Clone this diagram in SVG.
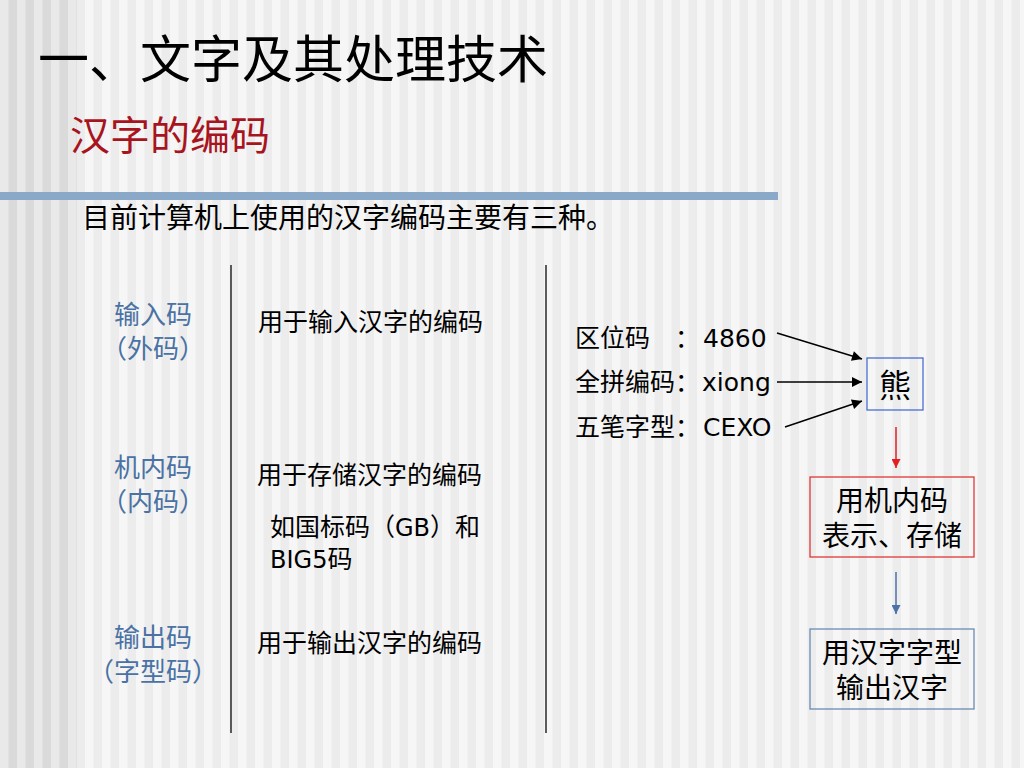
<svg xmlns="http://www.w3.org/2000/svg" width="1024" height="768" viewBox="0 0 1024 768">
<defs>
<pattern id="stripesDark" x="0" y="0" width="17" height="10" patternUnits="userSpaceOnUse">
<rect x="0" y="0" width="17" height="10" fill="#e9e9e9"/>
<rect x="8.5" y="0" width="8.5" height="10" fill="#dadada"/>
</pattern>
<pattern id="stripesLight" x="0" y="0" width="17" height="10" patternUnits="userSpaceOnUse">
<rect x="0" y="0" width="17" height="10" fill="#f6f6f6"/>
<rect x="8.5" y="0" width="8.5" height="10" fill="#ececec"/>
</pattern>
<marker id="arrBlack" viewBox="0 0 10 10" refX="10" refY="5" markerWidth="13" markerHeight="10" markerUnits="userSpaceOnUse" orient="auto">
<path d="M0,0 L10,5 L0,10 z" fill="#000"/>
</marker>
<marker id="arrRed" viewBox="0 0 10 10" refX="10" refY="5" markerWidth="11" markerHeight="9" markerUnits="userSpaceOnUse" orient="auto">
<path d="M0,0 L10,5 L0,10 z" fill="#e02020"/>
</marker>
<marker id="arrBlue" viewBox="0 0 10 10" refX="10" refY="5" markerWidth="11" markerHeight="9" markerUnits="userSpaceOnUse" orient="auto">
<path d="M0,0 L10,5 L0,10 z" fill="#4a72a8"/>
</marker>
</defs>
<style>
.serif{font-family:"Liberation Serif","Noto Sans CJK SC",serif;}
.sans{font-family:"DejaVu Sans","Noto Sans CJK SC",sans-serif;}
.lbl{fill:#4a72a4;font-size:26px;text-anchor:middle;}
.desc{fill:#000;font-size:25px;}
.code{fill:#000;font-size:25px;}
.box{fill:none;stroke-width:1.3;}
.boxtxt{fill:#000;font-size:28px;text-anchor:middle;}
.vline{stroke:#1a1a1a;stroke-width:1.4;}
</style>
<rect x="0" y="0" width="1024" height="768" fill="url(#stripesLight)"/>
<rect x="0" y="0" width="77" height="768" fill="url(#stripesDark)"/>
<rect x="0" y="192" width="778" height="8" fill="#8aa8c8"/>

<g id="title">
<text class="serif" x="38" y="78" font-size="51" fill="#000">一、文字及其处理技术</text>
</g>
<g id="subtitle">
<text class="serif" x="70" y="150" font-size="40" fill="#a8141e">汉字的编码</text>
</g>
<g id="intro">
<text class="serif" x="82" y="228" font-size="28" fill="#000">目前计算机上使用的汉字编码主要有三种。</text>
</g>

<g id="dividers">
<line class="vline" x1="231" y1="265" x2="231" y2="733"/>
<line class="vline" x1="546" y1="265" x2="546" y2="733"/>
</g>

<g id="input-code">
<text class="serif lbl" x="153" y="324">输入码</text>
<text class="serif lbl" x="153" y="358">（外码）</text>
<text class="serif desc" x="258" y="331">用于输入汉字的编码</text>
</g>
<g id="internal-code">
<text class="serif lbl" x="153" y="477">机内码</text>
<text class="serif lbl" x="153" y="511">（内码）</text>
<text class="serif desc" x="257" y="484">用于存储汉字的编码</text>
<text class="serif desc" x="270" y="536">如国标码（<tspan class="sans" font-size="24">GB</tspan>）和</text>
<text class="serif desc" x="270" y="568"><tspan class="sans" font-size="24">BIG5</tspan>码</text>
</g>
<g id="output-code">
<text class="serif lbl" x="153" y="647">输出码</text>
<text class="serif lbl" x="153" y="681">（字型码）</text>
<text class="serif desc" x="257" y="652">用于输出汉字的编码</text>
</g>

<g id="example-codes">
<text class="serif code" x="575" y="347">区位码　：<tspan class="sans" x="703">4860</tspan></text>
<text class="serif code" x="575" y="391">全拼编码：<tspan class="sans" x="702">xiong</tspan></text>
<text class="serif code" x="575" y="436">五笔字型：<tspan class="sans" x="703">CEXO</tspan></text>
</g>

<g id="node-xiong">
<rect class="box" x="867" y="358" width="56" height="52" stroke="#4a6fd0" fill="#f4f4f4"/>
<text class="serif" x="895" y="397" font-size="32" text-anchor="middle" fill="#000">熊</text>
</g>
<g id="node-store">
<rect class="box" x="810" y="477" width="164" height="80" stroke="#e03838"/>
<text class="serif boxtxt" x="892" y="511">用机内码</text>
<text class="serif boxtxt" x="892" y="546">表示、存储</text>
</g>
<g id="node-output">
<rect class="box" x="810" y="629" width="164" height="80" stroke="#6a8cb4"/>
<text class="serif boxtxt" x="892" y="663">用汉字字型</text>
<text class="serif boxtxt" x="892" y="698">输出汉字</text>
</g>

<g id="connectors">
<line x1="777" y1="333" x2="862" y2="359" stroke="#000" stroke-width="1.5" marker-end="url(#arrBlack)"/>
<line x1="777" y1="382" x2="862" y2="382" stroke="#000" stroke-width="1.5" marker-end="url(#arrBlack)"/>
<line x1="785" y1="427" x2="862" y2="401" stroke="#000" stroke-width="1.5" marker-end="url(#arrBlack)"/>
<line x1="896" y1="427" x2="896" y2="468" stroke="#e02020" stroke-width="1.5" marker-end="url(#arrRed)"/>
<line x1="896" y1="572" x2="896" y2="614" stroke="#4a72a8" stroke-width="1.5" marker-end="url(#arrBlue)"/>
</g>
</svg>
